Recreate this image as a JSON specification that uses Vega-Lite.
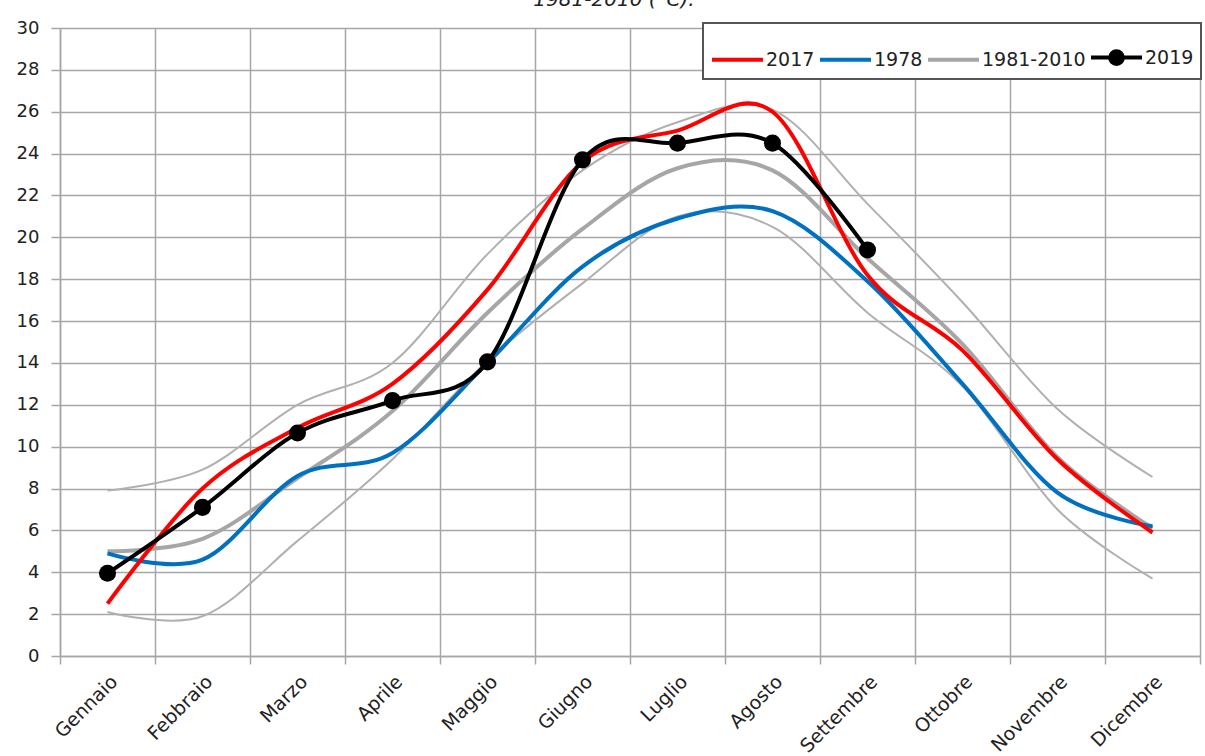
{
  "$schema": "https://vega.github.io/schema/vega-lite/v6.json",
  "width": 1140,
  "height": 628,
  "autosize": {"type": "none"},
  "padding": {"left": 60, "top": 28, "right": 5, "bottom": 100},
  "background": "white",
  "title": {"text": "1981-2010 (°C).", "font": "DejaVu Sans", "fontSize": 20, "fontStyle": "italic", "fontWeight": "normal", "color": "#222222", "anchor": "middle", "frame": "group", "dx": -16, "offset": -7, "baseline": "alphabetic"},
  "config": {
    "view": {"stroke": null},
    "legend": {
      "orient": "none", "legendX": 643, "legendY": -5, "direction": "horizontal", "columns": 4,
      "labelFont": "DejaVu Sans", "labelFontSize": 19, "labelColor": "#222222",
      "symbolSize": 2601, "symbolStrokeWidth": 4, "padding": 7, "columnPadding": -3, "labelOffset": 1,
      "fillColor": "white", "strokeColor": "#555555"
    }
  },
  "datasets": {
    "temps": [
      {"month": "Gennaio", "series": "max", "value": 7.9},
      {"month": "Febbraio", "series": "max", "value": 8.9},
      {"month": "Marzo", "series": "max", "value": 12.0},
      {"month": "Aprile", "series": "max", "value": 14.0},
      {"month": "Maggio", "series": "max", "value": 19.2},
      {"month": "Giugno", "series": "max", "value": 23.2},
      {"month": "Luglio", "series": "max", "value": 25.5},
      {"month": "Agosto", "series": "max", "value": 26.1},
      {"month": "Settembre", "series": "max", "value": 21.6},
      {"month": "Ottobre", "series": "max", "value": 16.9},
      {"month": "Novembre", "series": "max", "value": 11.8},
      {"month": "Dicembre", "series": "max", "value": 8.55},
      {"month": "Gennaio", "series": "min", "value": 2.1},
      {"month": "Febbraio", "series": "min", "value": 1.9},
      {"month": "Marzo", "series": "min", "value": 5.5},
      {"month": "Aprile", "series": "min", "value": 9.4},
      {"month": "Maggio", "series": "min", "value": 14.1},
      {"month": "Giugno", "series": "min", "value": 17.8},
      {"month": "Luglio", "series": "min", "value": 21.0},
      {"month": "Agosto", "series": "min", "value": 20.5},
      {"month": "Settembre", "series": "min", "value": 16.4},
      {"month": "Ottobre", "series": "min", "value": 12.9},
      {"month": "Novembre", "series": "min", "value": 7.0},
      {"month": "Dicembre", "series": "min", "value": 3.7},
      {"month": "Gennaio", "series": "1981-2010", "value": 5.0},
      {"month": "Febbraio", "series": "1981-2010", "value": 5.6},
      {"month": "Marzo", "series": "1981-2010", "value": 8.5},
      {"month": "Aprile", "series": "1981-2010", "value": 11.7},
      {"month": "Maggio", "series": "1981-2010", "value": 16.4},
      {"month": "Giugno", "series": "1981-2010", "value": 20.4},
      {"month": "Luglio", "series": "1981-2010", "value": 23.3},
      {"month": "Agosto", "series": "1981-2010", "value": 23.2},
      {"month": "Settembre", "series": "1981-2010", "value": 19.0},
      {"month": "Ottobre", "series": "1981-2010", "value": 14.9},
      {"month": "Novembre", "series": "1981-2010", "value": 9.5},
      {"month": "Dicembre", "series": "1981-2010", "value": 6.1},
      {"month": "Gennaio", "series": "1978", "value": 4.9},
      {"month": "Febbraio", "series": "1978", "value": 4.6},
      {"month": "Marzo", "series": "1978", "value": 8.6},
      {"month": "Aprile", "series": "1978", "value": 9.7},
      {"month": "Maggio", "series": "1978", "value": 14.0},
      {"month": "Giugno", "series": "1978", "value": 18.6},
      {"month": "Luglio", "series": "1978", "value": 20.9},
      {"month": "Agosto", "series": "1978", "value": 21.25},
      {"month": "Settembre", "series": "1978", "value": 17.9},
      {"month": "Ottobre", "series": "1978", "value": 13.0},
      {"month": "Novembre", "series": "1978", "value": 7.8},
      {"month": "Dicembre", "series": "1978", "value": 6.2},
      {"month": "Gennaio", "series": "2017", "value": 2.5},
      {"month": "Febbraio", "series": "2017", "value": 8.0},
      {"month": "Marzo", "series": "2017", "value": 10.9},
      {"month": "Aprile", "series": "2017", "value": 13.0},
      {"month": "Maggio", "series": "2017", "value": 17.5},
      {"month": "Giugno", "series": "2017", "value": 23.6},
      {"month": "Luglio", "series": "2017", "value": 25.1},
      {"month": "Agosto", "series": "2017", "value": 26.0},
      {"month": "Settembre", "series": "2017", "value": 18.2},
      {"month": "Ottobre", "series": "2017", "value": 14.6},
      {"month": "Novembre", "series": "2017", "value": 9.4},
      {"month": "Dicembre", "series": "2017", "value": 5.9},
      {"month": "Gennaio", "series": "2019", "value": 3.95},
      {"month": "Febbraio", "series": "2019", "value": 7.1},
      {"month": "Marzo", "series": "2019", "value": 10.65},
      {"month": "Aprile", "series": "2019", "value": 12.2},
      {"month": "Maggio", "series": "2019", "value": 14.05},
      {"month": "Giugno", "series": "2019", "value": 23.7},
      {"month": "Luglio", "series": "2019", "value": 24.5},
      {"month": "Agosto", "series": "2019", "value": 24.5},
      {"month": "Settembre", "series": "2019", "value": 19.4}
    ]
  },
  "data": {"name": "temps"},
  "encoding": {
    "x": {
      "field": "month", "type": "nominal",
      "sort": ["Gennaio", "Febbraio", "Marzo", "Aprile", "Maggio", "Giugno", "Luglio", "Agosto", "Settembre", "Ottobre", "Novembre", "Dicembre"],
      "scale": {"type": "band", "paddingInner": 0, "paddingOuter": 0},
      "bandPosition": 0.5,
      "axis": {
        "title": null, "tickBand": "extent", "grid": true,
        "gridColor": "#a6a6a6", "gridWidth": 1.5,
        "domainColor": "#a6a6a6", "domainWidth": 1.5,
        "tickColor": "#a6a6a6", "tickWidth": 1.5, "tickSize": 8,
        "labelAngle": -45, "labelFont": "DejaVu Sans", "labelFontSize": 19, "labelColor": "#222222", "labelPadding": 8
      }
    },
    "y": {
      "field": "value", "type": "quantitative",
      "scale": {"domain": [0, 30], "nice": false},
      "axis": {
        "title": null, "values": [0, 2, 4, 6, 8, 10, 12, 14, 16, 18, 20, 22, 24, 26, 28, 30],
        "grid": true, "gridColor": "#a6a6a6", "gridWidth": 1.5,
        "domainColor": "#a6a6a6", "domainWidth": 1.5,
        "tickColor": "#a6a6a6", "tickWidth": 1.5, "tickSize": 9,
        "labelFont": "DejaVu Sans", "labelFontSize": 18, "labelColor": "#222222", "labelPadding": 12
      }
    }
  },
  "layer": [
    {
      "transform": [{"filter": {"field": "series", "oneOf": ["max", "min"]}}],
      "mark": {"type": "line", "interpolate": "cardinal", "color": "#b0b0b0", "strokeWidth": 2},
      "encoding": {"detail": {"field": "series", "type": "nominal"}}
    },
    {
      "transform": [{"filter": {"field": "series", "oneOf": ["1981-2010", "1978", "2017", "2019"]}}],
      "mark": {"type": "line", "interpolate": "cardinal"},
      "encoding": {
        "color": {
          "field": "series", "type": "nominal",
          "scale": {"domain": ["2017", "1978", "1981-2010", "2019"], "range": ["#ff0000", "#0070c0", "#a6a6a6", "#000000"]},
          "legend": {
            "title": null,
            "encode": {
              "symbols": {"update": {
                "shape": {"signal": "datum.value === '2019' ? 'M-1,0H1M0.25,0A0.25,0.25,0,1,1,-0.25,0A0.25,0.25,0,1,1,0.25,0Z' : 'M-1,0H1'"},
                "fill": {"signal": "datum.value === '2019' ? '#000000' : 'transparent'"},
                "strokeWidth": {"value": 4}
              }},
              "legend": {"update": {"strokeWidth": {"value": 2}}}
            }
          }
        },
        "strokeWidth": {
          "field": "series", "type": "nominal",
          "scale": {"domain": ["2017", "1978", "1981-2010", "2019"], "range": [4, 4, 5, 3.5]},
          "legend": null
        }
      }
    },
    {
      "transform": [{"filter": {"field": "series", "equal": "2019"}}],
      "mark": {"type": "point", "filled": true, "color": "#000000", "size": 290, "opacity": 1}
    }
  ]
}
